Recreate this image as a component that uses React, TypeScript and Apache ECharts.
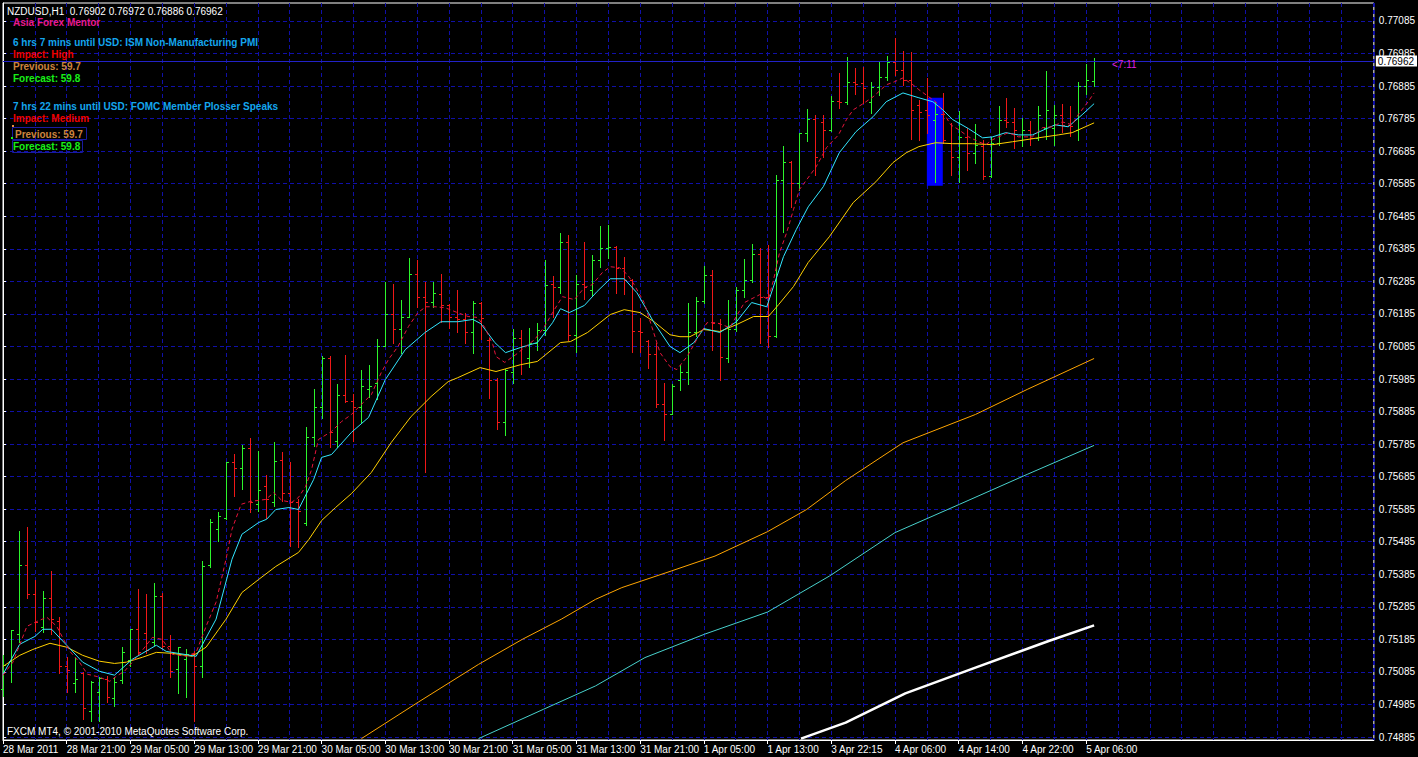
import React, { useEffect, useRef } from "react";
import * as echarts from "echarts";

const FONT = '"Liberation Sans", Arial, sans-serif';

const headerText = "NZDUSD,H1  0.76902 0.76972 0.76886 0.76962";
const xLabels = [
  "28 Mar 2011", "28 Mar 21:00", "29 Mar 05:00", "29 Mar 13:00", "29 Mar 21:00",
  "30 Mar 05:00", "30 Mar 13:00", "30 Mar 21:00", "31 Mar 05:00", "31 Mar 13:00",
  "31 Mar 21:00", "1 Apr 05:00", "1 Apr 13:00", "3 Apr 22:15", "4 Apr 06:00",
  "4 Apr 14:00", "4 Apr 22:00", "5 Apr 06:00",
];
const yTicks = [
  0.74885, 0.74985, 0.75085, 0.75185, 0.75285, 0.75385, 0.75485, 0.75585,
  0.75685, 0.75785, 0.75885, 0.75985, 0.76085, 0.76185, 0.76285, 0.76385,
  0.76485, 0.76585, 0.76685, 0.76785, 0.76885, 0.76985, 0.77085,
];
const lastPrice = 0.76962;

// [open, high, low, close] per H1 bar
const bars: number[][] = [
  [0.75032, 0.75136, 0.75010, 0.75105], [0.75118, 0.75213, 0.75053, 0.75213],
  [0.75200, 0.75517, 0.75176, 0.75415], [0.75415, 0.75529, 0.75311, 0.75323],
  [0.75323, 0.75366, 0.75210, 0.75237], [0.75222, 0.75333, 0.75207, 0.75311],
  [0.75311, 0.75394, 0.75200, 0.75247], [0.75240, 0.75253, 0.75081, 0.75102],
  [0.75102, 0.75130, 0.75022, 0.75090], [0.75050, 0.75127, 0.75022, 0.75062],
  [0.75081, 0.75084, 0.74940, 0.74973], [0.74964, 0.75056, 0.74933, 0.75053],
  [0.75022, 0.75069, 0.74933, 0.75065], [0.75062, 0.75072, 0.74992, 0.75007],
  [0.75004, 0.75069, 0.74980, 0.75053], [0.75059, 0.75161, 0.75050, 0.75145],
  [0.75121, 0.75216, 0.75102, 0.75216], [0.75216, 0.75339, 0.75136, 0.75145],
  [0.75204, 0.75323, 0.75142, 0.75151], [0.75176, 0.75357, 0.75167, 0.75317],
  [0.75317, 0.75329, 0.75158, 0.75164], [0.75164, 0.75197, 0.75069, 0.75087],
  [0.75093, 0.75161, 0.75019, 0.75161], [0.75124, 0.75154, 0.75007, 0.75139],
  [0.75139, 0.75148, 0.74933, 0.75102], [0.75102, 0.75425, 0.75069, 0.75409],
  [0.75415, 0.75554, 0.75406, 0.75547], [0.75523, 0.75575, 0.75486, 0.75563],
  [0.75557, 0.75729, 0.75554, 0.75729], [0.75729, 0.75756, 0.75624, 0.75713],
  [0.75713, 0.75781, 0.75646, 0.75772], [0.75772, 0.75805, 0.75575, 0.75606],
  [0.75600, 0.75765, 0.75578, 0.75643], [0.75655, 0.75689, 0.75557, 0.75615],
  [0.75606, 0.75790, 0.75594, 0.75732], [0.75735, 0.75762, 0.75609, 0.75636],
  [0.75636, 0.75729, 0.75471, 0.75606], [0.75606, 0.75615, 0.75468, 0.75578],
  [0.75544, 0.75836, 0.75535, 0.75808], [0.75808, 0.75953, 0.75778, 0.75900],
  [0.75900, 0.76057, 0.75864, 0.76051], [0.76051, 0.76057, 0.75775, 0.75821],
  [0.75793, 0.75971, 0.75775, 0.75937], [0.75937, 0.76060, 0.75913, 0.75916],
  [0.75916, 0.75940, 0.75793, 0.75900], [0.75900, 0.76014, 0.75854, 0.75962],
  [0.75953, 0.76029, 0.75931, 0.75965], [0.75974, 0.76109, 0.75925, 0.76085],
  [0.76085, 0.76284, 0.76085, 0.76186], [0.76186, 0.76278, 0.76097, 0.76140],
  [0.76140, 0.76229, 0.76066, 0.76177], [0.76177, 0.76358, 0.76174, 0.76309],
  [0.76309, 0.76352, 0.76207, 0.76238], [0.76238, 0.76284, 0.75698, 0.76223],
  [0.76223, 0.76284, 0.76207, 0.76250], [0.76247, 0.76309, 0.76161, 0.76211],
  [0.76211, 0.76214, 0.76143, 0.76174], [0.76174, 0.76260, 0.76128, 0.76168],
  [0.76168, 0.76189, 0.76097, 0.76128], [0.76128, 0.76226, 0.76066, 0.76217],
  [0.76217, 0.76223, 0.76109, 0.76171], [0.76106, 0.76112, 0.75928, 0.75983],
  [0.75983, 0.75989, 0.75830, 0.75854], [0.75854, 0.76017, 0.75814, 0.76014],
  [0.76005, 0.76140, 0.75974, 0.76112], [0.76112, 0.76137, 0.75999, 0.76085],
  [0.76051, 0.76143, 0.76023, 0.76097], [0.76097, 0.76158, 0.76075, 0.76137],
  [0.76137, 0.76352, 0.76121, 0.76275], [0.76278, 0.76300, 0.76177, 0.76269],
  [0.76269, 0.76435, 0.76250, 0.76407], [0.76407, 0.76428, 0.76106, 0.76121],
  [0.76121, 0.76306, 0.76069, 0.76278], [0.76278, 0.76407, 0.76232, 0.76269],
  [0.76260, 0.76367, 0.76244, 0.76352], [0.76352, 0.76456, 0.76330, 0.76389],
  [0.76389, 0.76459, 0.76358, 0.76392], [0.76392, 0.76395, 0.76250, 0.76327],
  [0.76327, 0.76361, 0.76247, 0.76290], [0.76290, 0.76293, 0.76069, 0.76131],
  [0.76131, 0.76171, 0.76069, 0.76128], [0.76103, 0.76106, 0.76020, 0.76063],
  [0.76063, 0.76097, 0.75900, 0.75907], [0.75907, 0.75974, 0.75799, 0.75876],
  [0.75876, 0.75971, 0.75876, 0.75962], [0.75983, 0.76029, 0.75950, 0.76008],
  [0.76005, 0.76217, 0.75971, 0.76128], [0.76128, 0.76238, 0.76118, 0.76226],
  [0.76226, 0.76333, 0.76217, 0.76306], [0.76306, 0.76321, 0.76075, 0.76158],
  [0.76158, 0.76168, 0.75983, 0.76054], [0.76051, 0.76229, 0.76036, 0.76140],
  [0.76140, 0.76269, 0.76131, 0.76260], [0.76260, 0.76355, 0.76238, 0.76290],
  [0.76290, 0.76401, 0.76284, 0.76370], [0.76370, 0.76389, 0.76097, 0.76238],
  [0.76238, 0.76398, 0.76082, 0.76118], [0.76118, 0.76613, 0.76115, 0.76597],
  [0.76597, 0.76702, 0.76438, 0.76653], [0.76653, 0.76656, 0.76515, 0.76588],
  [0.76588, 0.76742, 0.76567, 0.76742], [0.76742, 0.76815, 0.76717, 0.76785],
  [0.76785, 0.76797, 0.76613, 0.76668], [0.76775, 0.76797, 0.76668, 0.76751],
  [0.76751, 0.76855, 0.76748, 0.76840], [0.76840, 0.76926, 0.76818, 0.76837],
  [0.76837, 0.76975, 0.76831, 0.76898], [0.76898, 0.76941, 0.76861, 0.76892],
  [0.76895, 0.76944, 0.76834, 0.76880], [0.76837, 0.76898, 0.76803, 0.76883],
  [0.76883, 0.76960, 0.76858, 0.76914], [0.76914, 0.76978, 0.76904, 0.76960],
  [0.76960, 0.77033, 0.76920, 0.76935], [0.76935, 0.76993, 0.76889, 0.76904],
  [0.76904, 0.76990, 0.76723, 0.76812], [0.76828, 0.76843, 0.76720, 0.76806],
  [0.76812, 0.76910, 0.76742, 0.76797], [0.76782, 0.76837, 0.76591, 0.76800],
  [0.76800, 0.76864, 0.76711, 0.76720], [0.76711, 0.76772, 0.76613, 0.76668],
  [0.76668, 0.76809, 0.76591, 0.76729], [0.76729, 0.76757, 0.76628, 0.76680],
  [0.76680, 0.76769, 0.76650, 0.76705], [0.76702, 0.76720, 0.76600, 0.76610],
  [0.76610, 0.76729, 0.76607, 0.76711], [0.76711, 0.76825, 0.76705, 0.76782],
  [0.76782, 0.76849, 0.76760, 0.76775], [0.76775, 0.76818, 0.76696, 0.76751],
  [0.76720, 0.76788, 0.76702, 0.76751], [0.76751, 0.76778, 0.76705, 0.76726],
  [0.76726, 0.76825, 0.76720, 0.76797], [0.76757, 0.76932, 0.76723, 0.76812],
  [0.76757, 0.76828, 0.76705, 0.76797], [0.76797, 0.76831, 0.76745, 0.76766],
  [0.76766, 0.76825, 0.76732, 0.76763], [0.76751, 0.76898, 0.76720, 0.76886],
  [0.76886, 0.76953, 0.76861, 0.76904], [0.76902, 0.76972, 0.76886, 0.76962],
];

// moving averages: [bar index, price]
const fastMA = [
  [0, 0.75075], [1.25, 0.75115], [3, 0.75225], [4.25, 0.7524], [5.5, 0.75253], [6.75, 0.75225],
  [8.4, 0.75148], [9.6, 0.75115], [10.6, 0.75078], [12.1, 0.75069], [13.4, 0.75056], [14.25, 0.75072],
  [15.25, 0.75087], [17.1, 0.75139], [18.75, 0.75191], [20, 0.75185], [21.25, 0.75139], [23, 0.75133],
  [24.25, 0.75145], [25.5, 0.75225], [26.75, 0.75299], [28, 0.75431], [28.75, 0.75523], [29.9, 0.756],
  [31.1, 0.75609], [33, 0.75615], [34, 0.75636], [35, 0.75612], [36.25, 0.75606], [37.1, 0.75621],
  [38, 0.75655], [38.75, 0.75707], [39.6, 0.75799], [41.25, 0.75824], [42.5, 0.75854], [43.75, 0.75876],
  [45, 0.75907], [46.25, 0.75937], [47.5, 0.76005], [48.4, 0.76045], [49.6, 0.76085], [50.9, 0.76146],
  [52.1, 0.76189], [53.1, 0.76207], [54.25, 0.76207], [55.5, 0.76204], [56.75, 0.76192], [58.4, 0.76177],
  [59.6, 0.76174], [60.5, 0.76143], [61.5, 0.76091], [61.9, 0.76054], [63, 0.76036], [64.4, 0.7606],
  [65.5, 0.76082], [66.75, 0.76106], [68, 0.76146], [69, 0.76189], [70.25, 0.76238], [71.75, 0.76229],
  [73, 0.76266], [74, 0.76275], [75.25, 0.76312], [76.25, 0.7633], [77.4, 0.76327], [78.4, 0.76306],
  [79.25, 0.76275], [80.5, 0.7622], [81.5, 0.76143], [82.5, 0.76066], [83.75, 0.76023], [84.6, 0.76014],
  [85.9, 0.76054], [87.1, 0.76106], [88.4, 0.76158], [89.6, 0.76158], [91.25, 0.76143], [93.1, 0.7622],
  [95, 0.76244], [96.1, 0.76229], [96.75, 0.7629], [97.5, 0.76373], [98.4, 0.76435], [99.25, 0.76505],
  [100, 0.76567], [100.9, 0.76597], [102.1, 0.76637], [103.4, 0.76696], [104.9, 0.76735], [105.9, 0.76782],
  [106.75, 0.76812], [108, 0.76831], [109.25, 0.76852], [110.9, 0.76889], [111.9, 0.76898], [113, 0.7691],
  [114.25, 0.76889], [115, 0.76874], [115.9, 0.76858], [117.1, 0.76837], [118, 0.76806], [119, 0.76766],
  [120, 0.76751], [121.25, 0.76729], [122.5, 0.76714], [123.4, 0.76705], [124.25, 0.7672], [125, 0.76729],
  [126.25, 0.76742], [127.5, 0.76729], [129.25, 0.76729], [130.5, 0.76757], [131.75, 0.7676], [133, 0.76775],
  [134.25, 0.76766], [135, 0.76797], [136.25, 0.76837], [137, 0.76864],
];
const midMA = [
  [0, 0.75078], [2.1, 0.7517], [4, 0.75194], [5, 0.75216], [6.1, 0.75216], [8, 0.75167], [10, 0.75115],
  [12.1, 0.75087], [14, 0.75075], [16.25, 0.75124], [19.25, 0.75167], [20.5, 0.75148], [24.25, 0.75133],
  [26.75, 0.75247], [28.75, 0.75431], [30, 0.75508], [32.1, 0.75544], [33.1, 0.75554], [34.25, 0.75584],
  [35.9, 0.7559], [37.1, 0.75584], [39, 0.75676], [40, 0.75744], [41.25, 0.75753], [43.75, 0.75821],
  [45.9, 0.75867], [48, 0.75983], [50.5, 0.76075], [53, 0.76128], [55, 0.76161], [57.1, 0.76161],
  [59, 0.76168], [60, 0.76155], [61.75, 0.76097], [63.1, 0.76066], [65, 0.76082], [67.1, 0.76097],
  [69, 0.76158], [70, 0.76201], [71.1, 0.76189], [73, 0.76211], [74.6, 0.76254], [76.25, 0.76293],
  [78, 0.76293], [79.6, 0.7625], [81.75, 0.76158], [83.75, 0.76085], [85, 0.76066], [86.75, 0.76097],
  [88, 0.7614], [90, 0.76128], [92.1, 0.76161], [94, 0.7622], [95.9, 0.76207], [98, 0.76361],
  [99.6, 0.76444], [101.1, 0.76514], [103, 0.76576], [105, 0.7668], [107.1, 0.76745], [109.25, 0.76791],
  [110.9, 0.76837], [113, 0.76864], [115, 0.76849], [116.75, 0.76837], [118, 0.76812], [119.25, 0.76782],
  [121.25, 0.76754], [123, 0.76726], [124.25, 0.76729], [125.9, 0.76742], [127.5, 0.76735], [129.25, 0.76735],
  [132.1, 0.76766], [133.75, 0.7676], [135.5, 0.76797], [137, 0.76831],
];
const slowMA = [
  [0, 0.75102], [2.1, 0.75136], [3.75, 0.75154], [5.9, 0.75173], [8, 0.75161], [10, 0.75136],
  [12.1, 0.75118], [14, 0.75111], [15.5, 0.75115], [17.5, 0.7513], [19.25, 0.75145], [21.25, 0.75142],
  [23.75, 0.75133], [25.5, 0.75161], [27.1, 0.75216], [28, 0.75247], [30, 0.75329], [32.1, 0.75369],
  [34.25, 0.75409], [35.9, 0.75434], [37.1, 0.75452], [38.4, 0.75492], [40, 0.7555], [41.75, 0.7559],
  [43.75, 0.75633], [46.25, 0.75698], [48.75, 0.7579], [51.25, 0.7587], [53.75, 0.75931], [55.9, 0.75977],
  [57.1, 0.75989], [59.9, 0.7602], [61.9, 0.76008], [65, 0.76029], [67.1, 0.76039], [70, 0.76097],
  [71.25, 0.761], [73.4, 0.76128], [76.25, 0.76183], [78, 0.76198], [80, 0.76189], [81.75, 0.76161],
  [83.75, 0.76121], [85, 0.76115], [86.25, 0.76115], [88, 0.76137], [90, 0.76131], [92.1, 0.76152],
  [94.25, 0.76177], [96.1, 0.76177], [97.4, 0.76214], [99.25, 0.76269], [101.1, 0.76343], [103.75, 0.76422],
  [106.75, 0.76527], [109.6, 0.76591], [111.75, 0.7665], [113.4, 0.7668], [115, 0.76699], [117.1, 0.76711],
  [119.25, 0.76708], [121.75, 0.76708], [124.25, 0.76705], [126.75, 0.76714], [130, 0.76726], [132.5, 0.76735],
  [134.25, 0.76742], [137, 0.76772],
];
const orangeMA = [
  [45, 0.7488], [52.2, 0.74993], [59.7, 0.75108], [65.2, 0.75185], [70.1, 0.75247], [74.4, 0.75308],
  [77.7, 0.75344], [83.9, 0.75395], [89.4, 0.75441], [96, 0.75516], [100.9, 0.75584], [105.8, 0.75673],
  [113, 0.75789], [122.1, 0.75876], [128.6, 0.75953], [137, 0.76048],
];
const tealMA = [
  [59.7, 0.7488], [67.85, 0.7497], [74.4, 0.75042], [80.6, 0.75129], [88.1, 0.75201], [96, 0.75269],
  [103.8, 0.7538], [112, 0.75513], [120.1, 0.756], [128.6, 0.75692], [137, 0.75781],
];
const whiteMA = [
  [100.2, 0.7488], [105.8, 0.74929], [113.3, 0.75019], [122.1, 0.75098], [131.3, 0.7518], [137, 0.75228],
];
const highlightBox = { from: 116, to: 118, top: 0.76849, bottom: 0.76579 };

const UP = "#2cf52c";
const DOWN = "#f01818";
const GRID = "#1010a8";

export default function App() {
  const ref = useRef<HTMLDivElement>(null);
  useEffect(() => {
    document.body.style.margin = "0";
    document.body.style.background = "#000";
    const chart = echarts.init(ref.current as HTMLDivElement, null, { renderer: "svg" });
    const labelPos = xLabels.map((_, k) => k * 8);
    const ohlcData = bars.map((b, i) => [i, b[0], b[1], b[2], b[3]]);

    const txt = (text: string, x: number, y: number, fill: string, bold = false, size = 10) => ({
      type: "text",
      x,
      y,
      silent: true,
      z: 100,
      style: {
        text,
        fill,
        fontFamily: FONT,
        fontSize: size,
        fontWeight: bold ? "bold" : "normal",
        align: "left",
        verticalAlign: "middle",
      },
    });

    const option: any = {
      animation: false,
      backgroundColor: "#000",
      grid: {
        left: 3,
        top: 3,
        right: 38,
        bottom: 17,
        show: true,
        borderColor: "#fff",
        borderWidth: 1,
        backgroundColor: "transparent",
      },
      xAxis: [
        {
          type: "value",
          min: 0,
          max: 172.125,
          interval: 8,
          axisLine: { show: true, lineStyle: { color: "#fff", width: 1 } },
          axisTick: { show: true, customValues: labelPos, length: 4, lineStyle: { color: "#fff" } },
          axisLabel: {
            customValues: labelPos,
            formatter: (v: number) => xLabels[Math.round(v / 8)] ?? "",
            color: "#fff",
            fontFamily: FONT,
            fontSize: 10,
            align: "left",
            margin: 4,
          },
          splitLine: { show: false },
        },
        {
          type: "value",
          position: "top",
          min: 0,
          max: 172.125,
          interval: 4,
          axisLine: { show: false },
          axisTick: { show: false },
          axisLabel: { show: false },
          splitLine: { show: true, lineStyle: { color: GRID, type: [4, 3], width: 1 } },
        },
      ],
      yAxis: {
        type: "value",
        position: "right",
        min: 0.748758,
        max: 0.771403,
        scale: true,
        axisLine: { show: true, lineStyle: { color: "#fff", width: 1 } },
        axisTick: { show: true, customValues: yTicks, length: 3, lineStyle: { color: "#fff" } },
        axisLabel: {
          customValues: yTicks,
          formatter: (v: number) => v.toFixed(5),
          color: "#fff",
          fontFamily: FONT,
          fontSize: 10,
          margin: 5,
        },
        splitLine: { show: true, lineStyle: { color: GRID, type: [4, 3], width: 1 } },
      },
      series: [
        {
          name: "box",
          type: "line",
          data: [[0, yTicks[0]]],
          symbol: "none",
          lineStyle: { opacity: 0 },
          silent: true,
          z: 1,
          markArea: {
            silent: true,
            itemStyle: { color: "#0000ff", opacity: 1 },
            data: [[
              { xAxis: highlightBox.from, yAxis: highlightBox.top },
              { xAxis: highlightBox.to, yAxis: highlightBox.bottom },
            ]],
            z: 2,
          },
        },
        {
          name: "price",
          type: "line",
          data: [[0, lastPrice]],
          symbol: "none",
          lineStyle: { opacity: 0 },
          silent: true,
          z: 2,
          markLine: {
            silent: true,
            precision: 5,
            symbol: ["none", "none"],
            lineStyle: { color: "#2222c8", type: "solid", width: 1 },
            label: {
              show: true,
              position: "end",
              formatter: () => lastPrice.toFixed(5),
              backgroundColor: "#fff",
              color: "#000",
              fontFamily: FONT,
              fontSize: 10,
              padding: [1, 3, 0, 2],
              distance: 2,
            },
            data: [{ yAxis: lastPrice }],
            z: 30,
          },
        },
        {
          name: "bars",
          type: "custom",
          z: 5,
          silent: true,
          data: ohlcData,
          encode: { x: 0, y: [1, 2, 3, 4] },
          renderItem: (_params: any, api: any) => {
            const i = api.value(0);
            const o = api.value(1);
            const h = api.value(2);
            const l = api.value(3);
            const c = api.value(4);
            const ph = api.coord([i, h]);
            const pl = api.coord([i, l]);
            const po = api.coord([i, o]);
            const pc = api.coord([i, c]);
            const xi = Math.round(ph[0]);
            const x = xi + 0.5;
            const color = c >= o ? UP : DOWN;
            const st = { stroke: color, lineWidth: 1 };
            const yo = Math.round(po[1]) + 0.5;
            const yc = Math.round(pc[1]) + 0.5;
            return {
              type: "group",
              children: [
                { type: "line", shape: { x1: x, y1: Math.round(ph[1]), x2: x, y2: Math.round(pl[1]) + 1 }, style: st },
                { type: "line", shape: { x1: xi - 2, y1: yo, x2: xi, y2: yo }, style: st },
                { type: "line", shape: { x1: xi + 1, y1: yc, x2: xi + 3, y2: yc }, style: st },
              ],
            };
          },
        },
        {
          name: "MA long white",
          type: "line",
          data: whiteMA,
          symbol: "none",
          silent: true,
          z: 6,
          lineStyle: { color: "#ffffff", width: 2.5 },
        },
        {
          name: "MA long teal",
          type: "line",
          data: tealMA,
          symbol: "none",
          silent: true,
          z: 6,
          lineStyle: { color: "#48d1cc", width: 1 },
        },
        {
          name: "MA long orange",
          type: "line",
          data: orangeMA,
          symbol: "none",
          silent: true,
          z: 6,
          lineStyle: { color: "#ffa500", width: 1 },
        },
        {
          name: "MA slow",
          type: "line",
          data: slowMA,
          symbol: "none",
          silent: true,
          z: 7,
          lineStyle: { color: "#ffd000", width: 1 },
        },
        {
          name: "MA mid",
          type: "line",
          data: midMA,
          symbol: "none",
          silent: true,
          z: 7,
          lineStyle: { color: "#33e6ff", width: 1 },
        },
        {
          name: "MA fast",
          type: "line",
          data: fastMA,
          symbol: "none",
          silent: true,
          z: 8,
          lineStyle: { color: "#e8143c", width: 1, type: [4, 3] },
        },
      ],
      graphic: [
        txt(headerText, 7, 11, "#ffffff", false, 10),
        txt("Asia Forex Mentor", 13, 22, "#ea1a8c", true),
        txt("6 hrs 7 mins until USD: ISM Non-Manufacturing PMI", 13, 42, "#14a6ee", true),
        txt("Impact: High", 13, 54, "#f00000", true),
        txt("Previous: 59.7", 13, 66, "#cd853f", true),
        txt("Forecast: 59.8", 13, 78, "#18f018", true),
        txt("7 hrs 22 mins until USD: FOMC Member Plosser Speaks", 13, 106, "#14a6ee", true),
        txt("Impact: Medium", 13, 118, "#f00000", true),
        {
          type: "rect",
          silent: true,
          z: 99,
          shape: { x: 12.5, y: 127.5, width: 74, height: 12 },
          style: { fill: "none", stroke: "#1a1aa0", lineWidth: 1 },
        },
        {
          type: "rect",
          silent: true,
          z: 99,
          shape: { x: 12.5, y: 140.5, width: 70, height: 12 },
          style: { fill: "none", stroke: "#1a1aa0", lineWidth: 1 },
        },
        {
          type: "rect",
          silent: true,
          z: 100,
          shape: { x: 12, y: 125, width: 2, height: 2 },
          style: { fill: "#e89040" },
        },
        {
          type: "rect",
          silent: true,
          z: 100,
          shape: { x: 11, y: 137, width: 2, height: 2 },
          style: { fill: "#18f018" },
        },
        txt("Previous: 59.7", 15, 134, "#cd853f", true),
        txt("Forecast: 59.8", 13, 146, "#18f018", true),
        txt("<7:11", 1112, 64, "#e020e0", false, 10),
        txt("FXCM MT4, \u00a9 2001-2010 MetaQuotes Software Corp.", 7, 731, "#ffffff", false, 10),
      ],
    };
    chart.setOption(option);
    return () => chart.dispose();
  }, []);
  return <div ref={ref} style={{ width: 1418, height: 757, background: "#000" }} />;
}
